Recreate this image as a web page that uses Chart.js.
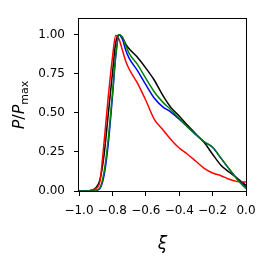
<!doctype html>
<html>

<head>
  <script src="https://cdn.jsdelivr.net/npm/chart.js@4/dist/chart.umd.min.js"></script>
  <style>
    body { margin: 0; background: #fff; }
    #wrap { width: 270px; height: 264px; position: relative; }
  </style>
</head>

<body>
  <div id="wrap"><canvas id="canvas"></canvas></div>
  <script>
    // xi grid and normalised P curves
    const xi = [-1.0, -0.95, -0.925, -0.9, -0.875, -0.85, -0.825, -0.8, -0.78, -0.76, -0.74, -0.72, -0.7,
      -0.65, -0.6, -0.55, -0.5, -0.45, -0.4, -0.35, -0.3, -0.25, -0.2, -0.15, -0.1, -0.05, 0.0];
    const pBlack = [0, 0, 0.005, 0.02, 0.07, 0.23, 0.49, 0.75, 0.95, 1.0, 0.98, 0.94, 0.91,
      0.855, 0.786, 0.71, 0.615, 0.535, 0.48, 0.42, 0.365, 0.31, 0.235, 0.165, 0.12, 0.08, 0.035];
    const pRed = [0, 0, 0.005, 0.015, 0.06, 0.31, 0.6, 0.85, 0.995, 0.97, 0.9, 0.83, 0.78,
      0.69, 0.58, 0.46, 0.395, 0.33, 0.275, 0.235, 0.19, 0.145, 0.115, 0.098, 0.075, 0.06, 0.057];
    const pBlue = [0, 0, 0, 0.003, 0.015, 0.1, 0.3, 0.6, 0.86, 1.0, 0.97, 0.9, 0.85,
      0.77, 0.68, 0.595, 0.54, 0.505, 0.46, 0.41, 0.36, 0.315, 0.28, 0.21, 0.14, 0.075, 0.025];
    const pGreen = [0, 0, 0, 0.005, 0.02, 0.12, 0.33, 0.62, 0.87, 1.0, 0.985, 0.93, 0.88,
      0.81, 0.72, 0.635, 0.57, 0.52, 0.465, 0.41, 0.36, 0.315, 0.28, 0.21, 0.14, 0.07, 0.015];

    const xTicks = [-1.0, -0.8, -0.6, -0.4, -0.2, 0.0];
    const yTicks = [0, 0.25, 0.5, 0.75, 1.0];

    const pts = (ys) => xi.map((x, i) => ({ x: x, y: ys[i] }));
    const minus = (s) => s.replace('-', '\u2212');

    const line = (label, ys, color, order) => ({
      label: label,
      data: pts(ys),
      borderColor: color,
      borderWidth: 1.5,
      pointRadius: 0,
      cubicInterpolationMode: 'monotone',
      fill: false,
      order: order
    });

    const frame = {
      id: 'frame',
      afterDraw(chart) {
        const ctx = chart.ctx;
        const a = chart.chartArea;
        ctx.save();
        ctx.strokeStyle = '#000';
        ctx.lineWidth = 1;
        ctx.strokeRect(Math.round(a.left) - 0.5, Math.round(a.top) - 0.5,
          Math.round(a.right - a.left) + 1, Math.round(a.bottom - a.top) + 1);

        ctx.fillStyle = '#000';
        // x label
        ctx.font = 'italic 17px "DejaVu Sans"';
        ctx.textAlign = 'center';
        ctx.textBaseline = 'alphabetic';
        ctx.fillText('\u03BE', (a.left + a.right) / 2, 249);

        // y label: P / P_max
        ctx.translate(24, (a.top + a.bottom) / 2);
        ctx.rotate(-Math.PI / 2);
        const big = '16px "DejaVu Sans"';
        const bigI = 'italic 16px "DejaVu Sans"';
        const small = '11px "DejaVu Sans"';
        const parts = [[bigI, 'P', 0], [big, '/', 0], [bigI, 'P', 0], [small, 'max', 4]];
        let w = 0;
        parts.forEach((p) => { ctx.font = p[0]; w += ctx.measureText(p[1]).width; });
        let x = -w / 2;
        ctx.textAlign = 'left';
        parts.forEach((p) => {
          ctx.font = p[0];
          ctx.fillText(p[1], x, p[2]);
          x += ctx.measureText(p[1]).width;
        });
        ctx.restore();
      }
    };

    new Chart(document.getElementById('canvas').getContext('2d'), {
      type: 'line',
      data: {
        datasets: [
          line('black', pBlack, '#000000', 4),
          line('red', pRed, '#ff0000', 3),
          line('blue', pBlue, '#0000ff', 2),
          line('green', pGreen, '#008000', 1)
        ]
      },
      options: {
        responsive: true,
        maintainAspectRatio: false,
        animation: false,
        layout: { padding: { top: 19, right: 24, left: 0, bottom: 0 } },
        plugins: { legend: { display: false }, tooltip: { enabled: false } },
        scales: {
          x: {
            type: 'linear',
            min: -1.0,
            max: 0.0,
            afterBuildTicks: (s) => { s.ticks = xTicks.map((v) => ({ value: v })); },
            afterFit: (s) => { s.height = 73; },
            grid: { drawOnChartArea: false, tickLength: 5, tickColor: '#000', tickWidth: 1 },
            border: { display: false },
            ticks: {
              color: '#000',
              padding: 8,
              maxRotation: 0,
              autoSkip: false,
              font: { family: 'DejaVu Sans', size: 12 },
              callback: (v) => minus(Number(v).toFixed(1))
            }
          },
          y: {
            min: 0,
            max: 1.1,
            afterBuildTicks: (s) => { s.ticks = yTicks.map((v) => ({ value: v })); },
            afterFit: (s) => { s.width = 79; },
            grid: { drawOnChartArea: false, tickLength: 5, tickColor: '#000', tickWidth: 1 },
            border: { display: false },
            ticks: {
              color: '#000',
              padding: 9,
              font: { family: 'DejaVu Sans', size: 12 },
              callback: (v) => Number(v).toFixed(2)
            }
          }
        }
      },
      plugins: [frame]
    });
  </script>
</body>

</html>
